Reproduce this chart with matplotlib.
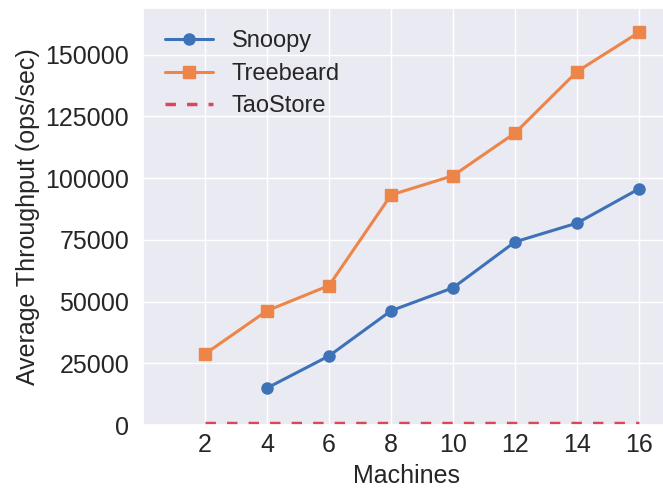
import matplotlib
matplotlib.use("Agg")
import matplotlib.pyplot as plt
import seaborn as sns

# throughput per number of machines
machines = [2, 4, 6, 8, 10, 12, 14, 16]
snoopy_machines = [4, 6, 8, 10, 12, 14, 16]
snoopy = [15000, 28000, 46300, 55600, 74200, 81800, 95700]
treebeard = [28800, 46300, 56500, 93200, 101000, 118300, 143200, 159100]
taostore = [700, 700, 700, 700, 700, 700, 700, 700]

yticks = [0, 25000, 50000, 75000, 100000, 125000, 150000]

sns.set_theme(style="darkgrid")
plt.rcParams['font.family'] = ['Liberation Sans', 'DejaVu Sans']

fig = plt.figure(figsize=(6.63, 4.88), dpi=100)
ax = fig.add_axes([0.2157, 0.129, 0.795, 0.855])

ax.plot(snoopy_machines, snoopy, marker='o', color='#3d72b8', lw=2.2, ms=8,
        label='Snoopy')
ax.plot(machines, treebeard, marker='s', color='#ee8548', lw=2.2, ms=8,
        label='Treebeard')
ax.plot(machines, taostore, ls='--', color='#d9485a', lw=2.5,
        dashes=(3, 3.2), label='TaoStore')

ax.set_xlim(0, 17)
ax.set_ylim(0, 169000)
ax.set_xticks(machines)
ax.set_yticks(yticks)
ax.tick_params(labelsize=18, colors='#262626')
ax.tick_params(axis='x', pad=0)
ax.tick_params(axis='y', pad=4)
ax.set_xlabel('Machines', fontsize=18, color='#262626', labelpad=5)
ax.set_ylabel('Average Throughput (ops/sec)', fontsize=18, color='#262626',
              labelpad=4)

ax.legend(loc='upper left', frameon=False, fontsize=17, handlelength=2.0,
          borderaxespad=0.55, labelspacing=0.45)

fig.savefig('out.png', dpi=100)
